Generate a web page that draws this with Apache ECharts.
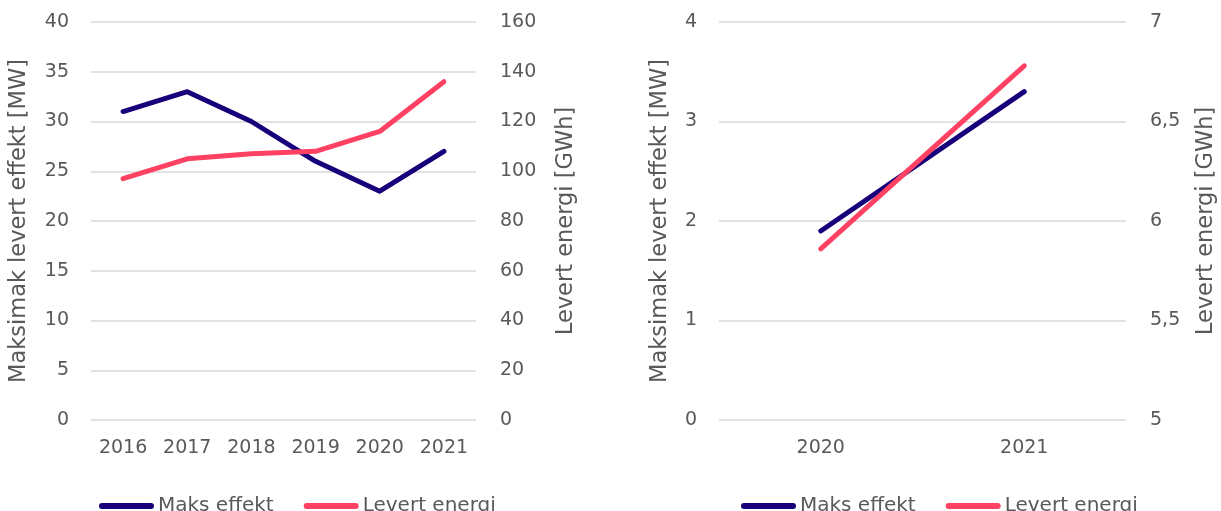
<!DOCTYPE html>
<html>
<head>
<meta charset="utf-8">
<script src="https://cdn.jsdelivr.net/npm/echarts@6/dist/echarts.min.js"></script>
<style>
  html, body { margin: 0; padding: 0; background: #fff; }
  #chart { width: 1221px; height: 511px; }
</style>
</head>
<body>
<div id="chart"></div>
<script>
// Left panel: 2016–2021
const yearsA = ['2016', '2017', '2018', '2019', '2020', '2021'];
const maksEffektA = [31, 33, 30, 26, 23, 27];          // MW
const levertEnergiA = [97, 105, 107, 108, 116, 136];   // GWh

// Right panel: 2020–2021
const yearsB = ['2020', '2021'];
const maksEffektB = [1.9, 3.3];                        // MW
const levertEnergiB = [5.86, 6.78];                    // GWh

const nameEffekt = 'Maks effekt';
const nameEnergi = 'Levert energi';
const titleLeft = 'Maksimak levert effekt [MW]';
const titleRight = 'Levert energi [GWh]';

const navy = '#17007A';
const pink = '#FF4163';
const textColor = '#595959';
const gridColor = '#D9D9D9';
const font = 'DejaVu Sans';

const labelStyle = { color: textColor, fontSize: 19, fontFamily: font };

function valueAxis(gridIndex, position, min, max, interval, title, gap, showGrid, fmt) {
  return {
    type: 'value', gridIndex, position, min, max, interval,
    name: title, nameLocation: 'middle', nameGap: gap, nameRotate: 90,
    nameTextStyle: { color: textColor, fontSize: 22.5, fontFamily: font },
    axisLine: { show: false }, axisTick: { show: false },
    axisLabel: Object.assign({ margin: position === 'left' ? 22 : 24, formatter: fmt }, labelStyle),
    splitLine: { show: showGrid, lineStyle: { color: gridColor, width: 1.5 } }
  };
}

function catAxis(gridIndex, data) {
  return {
    type: 'category', gridIndex, data, boundaryGap: true,
    axisLine: { show: false }, axisTick: { show: false },
    axisLabel: Object.assign({ margin: 19, interval: 0 }, labelStyle)
  };
}

function lineSeries(name, data, color, x, y) {
  return {
    name, type: 'line', data, xAxisIndex: x, yAxisIndex: y,
    showSymbol: false, symbol: 'none', smooth: false,
    lineStyle: { color, width: 5, cap: 'round', join: 'round' },
    itemStyle: { color }
  };
}

function legend(left) {
  return {
    left, top: 491, itemWidth: 55, itemHeight: 6, itemGap: 30,
    icon: 'path://M3,0 H52 A3,3 0 0 1 52,6 H3 A3,3 0 0 1 3,0 Z',
    textStyle: Object.assign({}, labelStyle, { fontSize: 20, padding: [0, 0, 0, -1] }),
    data: [nameEffekt, nameEnergi]
  };
}

const commaFmt = v => String(v).replace('.', ',');

const chart = echarts.init(document.getElementById('chart'), null, { renderer: 'canvas' });
chart.setOption({
  animation: false,
  backgroundColor: '#ffffff',
  legend: [legend(94), legend(736)],
  grid: [
    { left: 91, right: 745, top: 22, bottom: 91 },
    { left: 719, right: 95, top: 22, bottom: 91 }
  ],
  xAxis: [catAxis(0, yearsA), catAxis(1, yearsB)],
  yAxis: [
    valueAxis(0, 'left', 0, 40, 5, titleLeft, 60, true),
    valueAxis(0, 'right', 0, 160, 20, titleRight, 79, false),
    valueAxis(1, 'left', 0, 4, 1, titleLeft, 47, true),
    valueAxis(1, 'right', 5, 7, 0.5, titleRight, 69, false, commaFmt)
  ],
  series: [
    lineSeries(nameEffekt, maksEffektA, navy, 0, 0),
    lineSeries(nameEnergi, levertEnergiA, pink, 0, 1),
    lineSeries(nameEffekt, maksEffektB, navy, 1, 2),
    lineSeries(nameEnergi, levertEnergiB, pink, 1, 3)
  ]
});
</script>
</body>
</html>
